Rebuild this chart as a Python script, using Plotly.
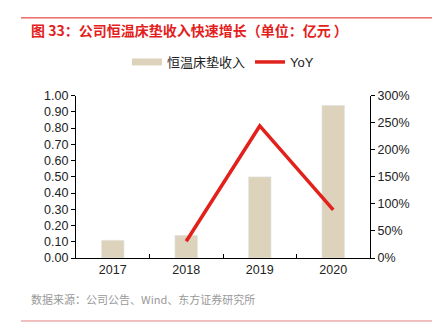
import plotly.graph_objects as go

years = ["2017", "2018", "2019", "2020"]
revenue = [0.11, 0.14, 0.50, 0.94]
yoy_years = ["2018", "2019", "2020"]
yoy = [0.31, 2.44, 0.89]
left_ticks = [0, 0.1, 0.2, 0.3, 0.4, 0.5, 0.6, 0.7, 0.8, 0.9, 1.0]
right_ticks = [0, 0.5, 1.0, 1.5, 2.0, 2.5, 3.0]

FONT = "Liberation Sans, Arial, Noto Sans CJK SC"
BAR_COLOR = "#DDD3BC"
LINE_COLOR = "#E3211C"
L, R, T, B = 76, 370, 93, 258
W, H = 440, 328
PW, PH = R - L, B - T

def px(x):
    return (x - L) / PW

def py(y):
    return (B - y) / PH

fig = go.Figure()
fig.add_trace(go.Bar(x=years, y=revenue, name="恒温床垫收入", marker_color=BAR_COLOR,
                     width=0.31, yaxis="y", showlegend=False))
# legend-only proxy so the legend key is a wide flat swatch like the original
fig.add_trace(go.Scatter(x=[None], y=[None], name="恒温床垫收入", mode="lines",
                         line=dict(color=BAR_COLOR, width=7), yaxis="y"))
fig.add_trace(go.Scatter(x=yoy_years, y=yoy, name="YoY", mode="lines",
                         line=dict(color=LINE_COLOR, width=3.5), yaxis="y2"))

fig.update_layout(
    width=W, height=H,
    margin=dict(l=L, r=W - R, t=T, b=H - B),
    paper_bgcolor="white", plot_bgcolor="white",
    font=dict(family=FONT, size=12, color="#222"),
    showlegend=True,
    legend=dict(orientation="h", x=0.5, xanchor="center", xref="paper",
                y=1 - 62 / H, yref="container", yanchor="middle",
                font=dict(size=13, color="#222"), itemwidth=30, traceorder="normal"),
    xaxis=dict(type="category", showline=True, linecolor="black", linewidth=1.2,
               ticks="inside", tickson="boundaries", ticklen=4, tickcolor="black",
               showgrid=False, tickfont=dict(size=12.5)),
    yaxis=dict(range=[0, 1.0], tickvals=left_ticks, tickformat=".2f",
               showline=True, linecolor="black", linewidth=1.2, ticks="outside",
               ticklen=4, tickcolor="black", showgrid=False, zeroline=False,
               tickfont=dict(size=12.5)),
    yaxis2=dict(range=[0, 3.0], tickvals=right_ticks, tickformat=".0%",
                overlaying="y", side="right", showline=True, linecolor="black",
                linewidth=1.2, ticks="outside", ticklen=4, tickcolor="black",
                showgrid=False, zeroline=False, tickfont=dict(size=12.5)),
    bargap=0.5,
)

fig.add_shape(type="line", xref="paper", yref="paper", x0=px(21), x1=px(432),
              y0=py(14), y1=py(14), line=dict(color=LINE_COLOR, width=1))
fig.add_shape(type="line", xref="paper", yref="paper", x0=px(21), x1=px(432),
              y0=py(322), y1=py(322), line=dict(color="#E88080", width=1))

fig.add_annotation(text="<b>图 33：公司恒温床垫收入快速增长（单位：亿元 ）</b>", xref="paper", yref="paper",
                   x=px(29), y=py(26), xanchor="left", yanchor="middle", showarrow=False,
                   font=dict(size=14, color=LINE_COLOR, family="Noto Sans CJK SC"))
fig.add_annotation(text="数据来源：公司公告、Wind、东方证券研究所", xref="paper", yref="paper",
                   x=px(29), y=py(300), xanchor="left", yanchor="middle", showarrow=False,
                   font=dict(size=11, color="#999999", family="Noto Sans CJK SC"))

fig.write_html("out.html")
